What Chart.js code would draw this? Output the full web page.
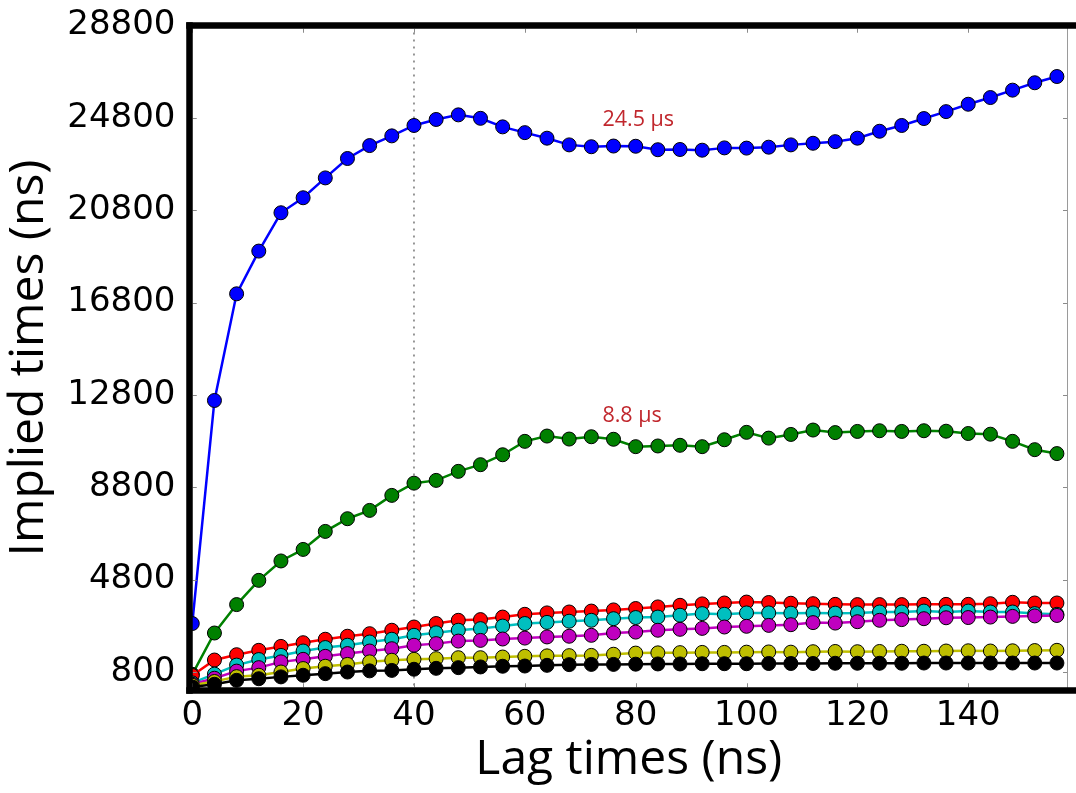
<!DOCTYPE html>
<html>
<head>
<meta charset="utf-8">
<script src="https://cdn.jsdelivr.net/npm/chart.js@4.4.0/dist/chart.umd.min.js"></script>
<style>
html,body{margin:0;padding:0;background:#fff;}
canvas{display:block;}
</style>
</head>
<body>
<canvas id="c" width="1076" height="793"></canvas>
<script>
// ---- data (lag time in ns, implied timescale in ns) ----
const lagTimes = [0,4,8,12,16,20,24,28,32,36,40,44,48,52,56,60,64,68,72,76,80,84,88,92,96,100,104,108,112,116,120,124,128,132,136,140,144,148,152,156];

const blueTimes = [2900,12560,17180,19030,20690,21340,22200,23040,23600,24020,24470,24730,24930,24780,24410,24160,23920,23630,23550,23580,23570,23420,23430,23400,23500,23490,23530,23630,23700,23770,23920,24220,24470,24770,25070,25390,25680,26000,26320,26590];
const greenTimes = [700,2490,3720,4770,5610,6110,6890,7440,7800,8450,8980,9100,9490,9780,10210,10790,11020,10890,10990,10880,10560,10590,10620,10560,10860,11180,10930,11090,11280,11170,11220,11250,11220,11250,11230,11130,11100,10790,10430,10260];
const redTimes = [650,1320,1550,1740,1910,2070,2220,2350,2460,2610,2750,2900,3040,3070,3180,3300,3360,3400,3440,3490,3550,3620,3690,3750,3790,3830,3810,3780,3760,3730,3720,3720,3720,3730,3730,3730,3760,3820,3790,3790];
const cyanTimes = [330,710,1100,1340,1520,1710,1860,1960,2100,2220,2390,2500,2610,2680,2790,2900,2950,3000,3040,3110,3160,3180,3260,3330,3300,3360,3360,3350,3360,3350,3360,3400,3400,3440,3400,3440,3400,3400,3330,3300];
const magentaTimes = [270,530,840,990,1240,1350,1480,1600,1710,1810,1960,2030,2140,2170,2230,2270,2320,2350,2390,2490,2530,2610,2650,2690,2750,2780,2820,2850,2940,2920,2980,3040,3070,3110,3150,3160,3180,3210,3230,3250];
const yellowTimes = [225,390,600,660,800,950,1050,1130,1240,1310,1350,1380,1420,1420,1450,1480,1500,1510,1520,1570,1620,1630,1640,1650,1650,1660,1670,1660,1680,1690,1680,1690,1700,1700,1710,1720,1710,1720,1730,1740];
const blackTimes = [150,270,440,510,590,660,730,800,850,870,920,960,990,1020,1050,1060,1090,1120,1130,1130,1140,1150,1150,1160,1160,1160,1170,1170,1170,1180,1180,1180,1180,1190,1190,1190,1190,1190,1190,1190];

const xTickValues = [0,20,40,60,80,100,120,140];
const yTickValues = [800,4800,8800,12800,16800,20800,24800,28800];

const markerLag = 40;
const noteTexts = ['24.5 \u03bcs', '8.8 \u03bcs'];
const noteLags = [74, 74];
const noteValues = [24710, 11910];

// ---- styling ----
const seriesValues = [blueTimes, greenTimes, redTimes, cyanTimes, magentaTimes, yellowTimes, blackTimes];
const seriesColors = ['#0000ff','#008000','#ff0000','#00bfbf','#bf00bf','#bfbf00','#000000'];

const datasets = seriesValues.map((vals, i) => ({
  data: vals.map((v, j) => ({x: lagTimes[j], y: v})),
  borderColor: seriesColors[i],
  backgroundColor: seriesColors[i],
  pointBackgroundColor: seriesColors[i],
  pointBorderColor: '#000',
  pointBorderWidth: 1,
  pointRadius: 7,
  borderWidth: 2.5,
  tension: 0,
  order: seriesValues.length - i
}));

const SPINE = 6.5;

const framePlugin = {
  id: 'frame',
  beforeDatasetsDraw(chart) {
    const {ctx, chartArea: ca, scales: {x}} = chart;
    const px = x.getPixelForValue(markerLag);
    ctx.save();
    ctx.strokeStyle = '#8c8c8c';
    ctx.lineWidth = 1.8;
    ctx.setLineDash([2, 5]);
    ctx.beginPath();
    ctx.moveTo(px, ca.top);
    ctx.lineTo(px, ca.bottom);
    ctx.stroke();
    ctx.restore();
  },
  afterDatasetsDraw(chart) {
    const {ctx, chartArea: ca, scales: {x, y}} = chart;
    const h = SPINE / 2;
    ctx.save();
    // thin right spine
    ctx.strokeStyle = '#9a9a9a';
    ctx.lineWidth = 1;
    ctx.beginPath();
    ctx.moveTo(ca.right - 0.5, ca.top);
    ctx.lineTo(ca.right - 0.5, ca.bottom);
    ctx.stroke();
    // tick marks (inward)
    ctx.strokeStyle = '#8a8a8a';
    ctx.lineWidth = 1;
    ctx.beginPath();
    x.ticks.forEach(t => {
      const p = Math.round(x.getPixelForValue(t.value)) + 0.5;
      ctx.moveTo(p, ca.bottom - h); ctx.lineTo(p, ca.bottom - h - 4);
      ctx.moveTo(p, ca.top + h); ctx.lineTo(p, ca.top + h + 4);
    });
    y.ticks.forEach(t => {
      const p = Math.round(y.getPixelForValue(t.value)) + 0.5;
      ctx.moveTo(ca.left + h, p); ctx.lineTo(ca.left + h + 4, p);
      ctx.moveTo(ca.right - 1, p); ctx.lineTo(ca.right - 5, p);
    });
    ctx.stroke();
    // thick spines
    ctx.fillStyle = '#000';
    ctx.fillRect(ca.left - h, ca.top - h, SPINE, ca.bottom - ca.top + SPINE);
    ctx.fillRect(ca.left - h, ca.top - h, chart.width - (ca.left - h), SPINE);
    ctx.fillRect(ca.left - h, ca.bottom - h, chart.width - (ca.left - h), SPINE);
    // annotations
    ctx.fillStyle = '#c1272d';
    ctx.font = '21.5px "Open Sans"';
    ctx.textAlign = 'left';
    ctx.textBaseline = 'middle';
    noteTexts.forEach((txt, i) => {
      ctx.fillText(txt, x.getPixelForValue(noteLags[i]), y.getPixelForValue(noteValues[i]));
    });
    ctx.restore();
  }
};

new Chart(document.getElementById('c'), {
  type: 'line',
  data: {datasets},
  plugins: [framePlugin],
  options: {
    responsive: false,
    animation: false,
    devicePixelRatio: 1,
    events: [],
    layout: {padding: {top: 25.5, right: 1, bottom: 0, left: 0}},
    plugins: {legend: {display: false}, tooltip: {enabled: false}},
    scales: {
      x: {
        type: 'linear',
        min: -0.5,
        max: 158,
        afterBuildTicks: s => { s.ticks = xTickValues.map(v => ({value: v})); },
        afterFit: s => { s.height = 102.5; s.paddingLeft = 0; s.paddingRight = 0; },
        grid: {display: false, drawTicks: false},
        border: {display: false},
        ticks: {
          color: '#000',
          font: {family: 'DejaVu Sans', size: 34, lineHeight: 1.2},
          padding: 5,
          maxRotation: 0,
          autoSkip: false,
          callback: v => String(v)
        },
        title: {
          display: true,
          text: 'Lag times (ns)',
          color: '#000',
          font: {family: 'Open Sans', size: 48, lineHeight: 1},
          padding: {top: 0, bottom: 9}
        }
      },
      y: {
        type: 'linear',
        min: 0,
        max: 28800,
        afterBuildTicks: s => { s.ticks = yTickValues.map(v => ({value: v})); },
        afterFit: s => { s.width = 189.5; s.paddingTop = 0; s.paddingBottom = 0; },
        grid: {display: false, drawTicks: false},
        border: {display: false},
        ticks: {
          color: '#000',
          font: {family: 'DejaVu Sans', size: 34, lineHeight: 1.2},
          padding: 14,
          autoSkip: false,
          callback: v => String(v)
        },
        title: {
          display: true,
          text: 'Implied times (ns)',
          color: '#000',
          font: {family: 'Open Sans', size: 48, lineHeight: 1},
          padding: {top: 5, bottom: 0}
        }
      }
    }
  }
});
</script>
</body>
</html>
